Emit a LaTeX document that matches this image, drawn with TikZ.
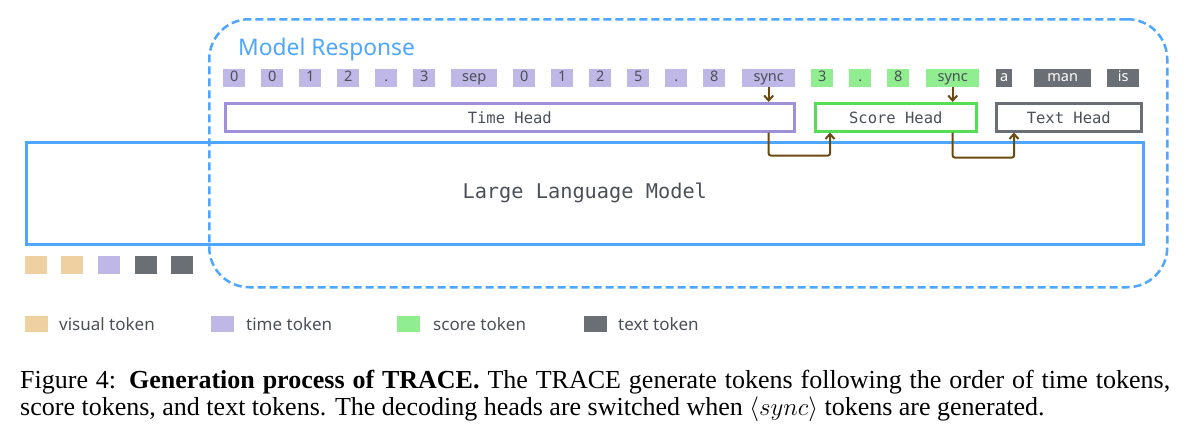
\documentclass[tikz,border=0pt]{standalone}
\usepackage{fontspec}
\setmainfont{Liberation Serif}
\setsansfont{Noto Sans}
\setmonofont{DejaVu Sans Mono}
\usetikzlibrary{arrows.meta}
\definecolor{respblue}{HTML}{4DA6FF}
\definecolor{timetok}{HTML}{BFB7E6}
\definecolor{scoretok}{HTML}{90EE90}
\definecolor{texttok}{HTML}{6A6F76}
\definecolor{vistok}{HTML}{EED0A1}
\definecolor{timeline}{HTML}{9F90D8}
\definecolor{scoreline}{HTML}{55DD55}
\definecolor{flowbrown}{HTML}{6B4A12}
\definecolor{labelgray}{HTML}{4A4F58}

\begin{document}
\begin{tikzpicture}[x=1pt,y=-1pt,
  tok/.style={inner sep=0pt, minimum height=18pt, anchor=north west,
    text height=10pt, text depth=2.5pt, font=\sffamily\fontsize{14.5}{14.5}\selectfont},
  head/.style={line width=2.5pt, inner sep=0pt, minimum height=28pt, anchor=north west,
    text=labelgray, font=\ttfamily\fontsize{15.5}{15.5}\selectfont},
  flow/.style={line width=2pt, flowbrown, rounded corners=2pt,
    -{Straight Barb[length=5pt,width=9pt]}},
  legend/.style={inner sep=0pt, minimum width=23pt, minimum height=16pt, anchor=north west},
  legendtext/.style={anchor=west, inner sep=0pt, text=labelgray,
    font=\sffamily\fontsize{17}{17}\selectfont},
  captionline/.style={anchor=base west, inner sep=0pt, font=\fontsize{26}{27.5}\selectfont}]
\useasboundingbox (0,0) rectangle (1190,434);

% model response frame
\node[draw=respblue, line width=2.5pt, dash pattern=on 8pt off 4pt, rounded corners=40pt,
  inner sep=0pt, minimum width=958pt, minimum height=268pt, anchor=north west] (response) at (208,18) {};
\node[anchor=base west, inner sep=0pt, text=respblue, font=\sffamily\fontsize{22.8}{22.8}\selectfont] (resplabel) at (238,55) {Model Response};

% generated tokens
\foreach \x/\w/\c/\tc/\lab [count=\i] in {223/22/timetok/labelgray/0, 261/22/timetok/labelgray/0,
  299/22/timetok/labelgray/1, 337/22/timetok/labelgray/2, 375/22/timetok/labelgray/.,
  413/22/timetok/labelgray/3, 451/46/timetok/labelgray/sep, 513/22/timetok/labelgray/0,
  551/22/timetok/labelgray/1, 589/22/timetok/labelgray/2, 627/22/timetok/labelgray/5,
  665/22/timetok/labelgray/., 703/22/timetok/labelgray/8, 742/53/timetok/labelgray/sync,
  811/22/scoretok/labelgray/3, 849/22/scoretok/labelgray/., 887/22/scoretok/labelgray/8,
  926/53/scoretok/labelgray/sync, 996/16/texttok/white/a, 1034/57/texttok/white/man,
  1107/32/texttok/white/is}
  \node[tok, fill=\c, text=\tc, minimum width=\w pt] (tk\i) at (\x,69) {\lab};

% decoding heads
\node[head, draw=timeline, minimum width=569pt] (timehead) at (224,102) {Time Head};
\node[head, draw=scoreline, minimum width=161pt] (scorehead) at (814,102) {Score Head};
\node[head, draw=texttok, minimum width=145pt] (texthead) at (995,102) {Text Head};

% llm
\node[draw=respblue, line width=2.5pt, inner sep=0pt, minimum width=1117pt, minimum height=102pt,
  anchor=north west, text=labelgray, font=\ttfamily\fontsize{20.3}{20.3}\selectfont] (llm) at (25,141) {Large Language Model};

% switching arrows
\draw[flow] (tk14.south) -- (tk14.south |- timehead.north);
\draw[flow] (tk18.south) -- (tk18.south |- scorehead.north);
\draw[flow] (tk14.south |- timehead.south) -- ++(0,23) -| ([xshift=16pt]scorehead.south west);
\draw[flow] (tk18.south |- scorehead.south) -- ++(0,25) -| ([xshift=19pt]texthead.south west);

% input tokens
\foreach \x/\c [count=\i] in {25/vistok, 61/vistok, 98/timetok, 135/texttok, 171/texttok}
  \node[tok, fill=\c, minimum width=22pt] (in\i) at (\x,256) {};

% legend
\node[legend, fill=vistok] (lgvis) at (25,316) {};
\node[legendtext] (lgvistext) at (59,324) {visual token};
\node[legend, fill=timetok] (lgtime) at (211,316) {};
\node[legendtext] (lgtimetext) at (246,324) {time token};
\node[legend, fill=scoretok] (lgscore) at (397,316) {};
\node[legendtext] (lgscoretext) at (433,324) {score token};
\node[legend, fill=texttok] (lgtext) at (584,316) {};
\node[legendtext] (lgtexttext) at (618,324) {text token};

% caption
\node[captionline] (caption) at (20,388)
  {\makebox[1150pt][s]{Figure 4:\enspace\textbf{Generation process of TRACE.} The TRACE generate tokens following the order of time tokens,}};
\node[captionline] (captiontail) at (20,415)
  {score tokens, and text tokens. The decoding heads are switched when $\langle sync\rangle$ tokens are generated.};
\end{tikzpicture}
\end{document}
